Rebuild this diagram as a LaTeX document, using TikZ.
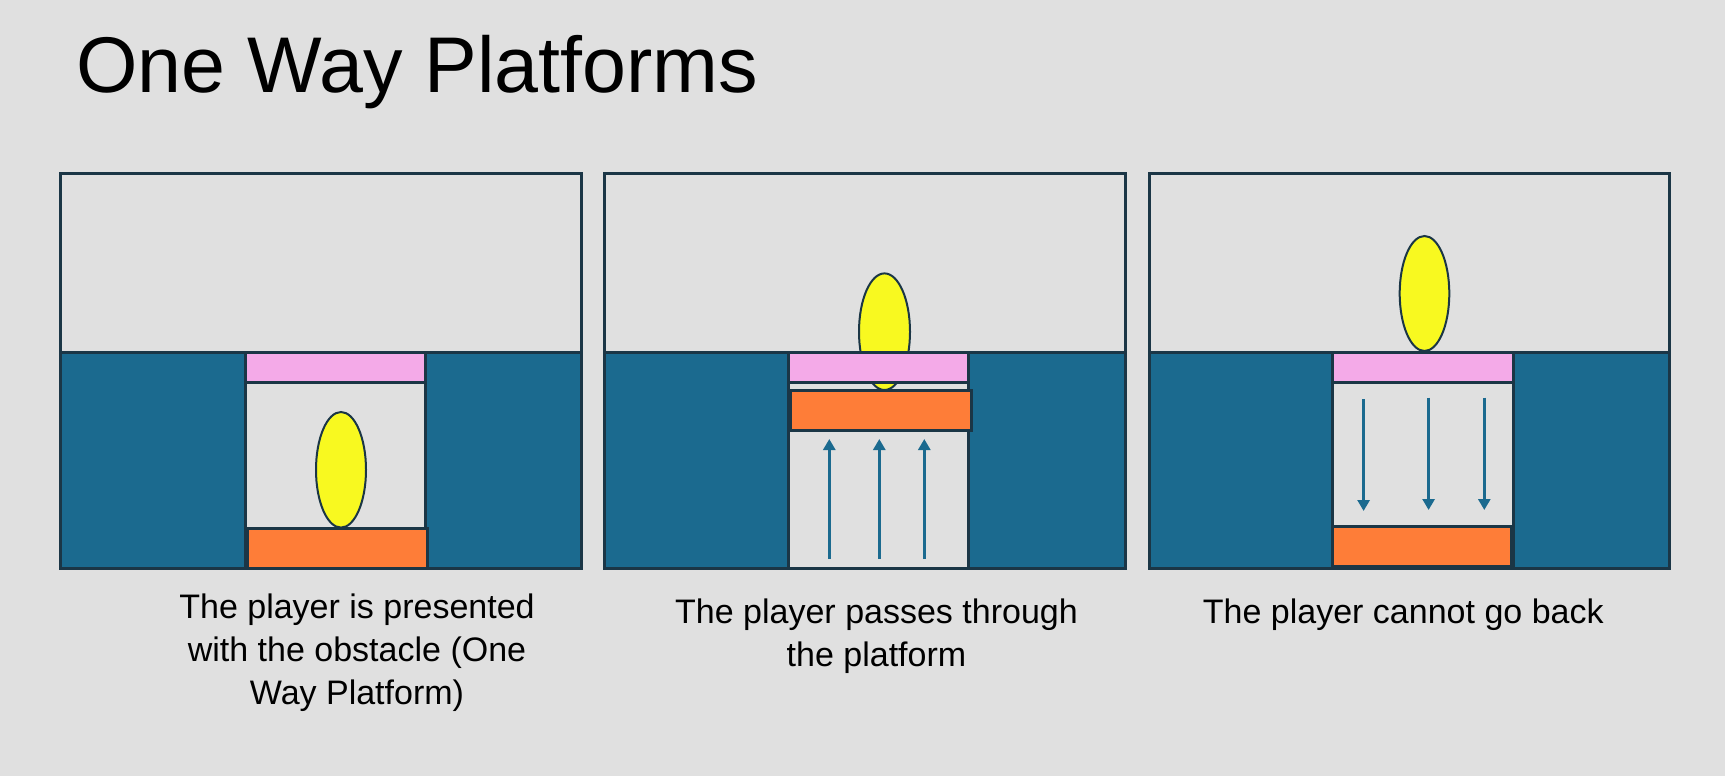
\documentclass[tikz,border=0pt]{standalone}
\usepackage{fontspec}
\setmainfont{Liberation Sans}
\usetikzlibrary{arrows.meta}
\definecolor{bg}{HTML}{E0E0E0}
\definecolor{dk}{HTML}{1B3646}
\definecolor{wallblue}{HTML}{1B6A8F}
\definecolor{platpink}{HTML}{F4AAE8}
\definecolor{platorange}{HTML}{FE7D38}
\definecolor{playeryellow}{HTML}{F8F920}
\begin{document}
\begin{tikzpicture}[x=1pt,y=-1pt,line join=miter]
\tikzset{
  edgeline/.style={draw=dk,line width=3pt},
  framebox/.style={fill=bg,draw=dk,line width=3pt},
  wallbox/.style={fill=wallblue,draw=dk,line width=3pt},
  pinkbox/.style={fill=platpink,draw=dk,line width=3pt},
  orangebox/.style={fill=platorange,draw=dk,line width=3pt},
  playerbox/.style={fill=playeryellow,draw=dk,line width=2pt},
  moveline/.style={draw=wallblue,line width=2.7pt,-{Triangle[width=12pt,length=11pt]}},
  caption/.style={font=\fontsize{34}{43.3}\selectfont,align=center,inner sep=0pt,anchor=base,text=black},
  titletext/.style={font=\fontsize{79}{96}\selectfont,inner sep=0pt,anchor=base west,text=black}
}
\fill[bg] (0,0) rectangle (1725,776);
\useasboundingbox (0,0) rectangle (1725,776);

\node[titletext] (title) at (76,92.7) {One Way Platforms};

% ---------- Panel 1 ----------
\draw[framebox] (60.7,173.3) rectangle (581.8,568.3);
\draw[wallbox] (60.7,352.3) rectangle (245.4,568.3);
\draw[wallbox] (425,352.3) rectangle (581.8,568.3);
\draw[pinkbox] (245.4,352.3) rectangle (425,382.3);
\draw[orangebox] (247,528.3) rectangle (427.5,568.3);
\draw[playerbox] (341,469.8) ellipse [x radius=25, y radius=57.8];
\draw[edgeline] (60.7,352.3) -- (581.8,352.3);
% base anchor of a multi-line node = baseline of its last line
\node[caption] (cap1) at (357,704.9) {The player is presented\\with the obstacle (One\\Way Platform)};

% ---------- Panel 2 ----------
\draw[framebox] (604.3,173.3) rectangle (1125.7,568.3);
\draw[wallbox] (604.3,352.3) rectangle (788.2,568.3);
\draw[wallbox] (968.6,352.3) rectangle (1125.7,568.3);
\draw[playerbox] (884.5,331.7) ellipse [x radius=25.5, y radius=58.3];
\draw[pinkbox] (788.2,352.3) rectangle (968.6,382.3);
\draw[orangebox] (790,390) rectangle (971,430.7);
\draw[edgeline] (604.3,352.3) -- (1125.7,352.3);
\coordinate (u1s) at (829.3,559); \coordinate (u1e) at (829.3,439);
\coordinate (u2s) at (879.3,559); \coordinate (u2e) at (879.3,439);
\coordinate (u3s) at (924.3,559); \coordinate (u3e) at (924.3,439);
\draw[moveline] (u1s) -- (u1e);
\draw[moveline] (u2s) -- (u2e);
\draw[moveline] (u3s) -- (u3e);
\node[caption] (cap2) at (876.5,666.6) {The player passes through\\the platform};

% ---------- Panel 3 ----------
\draw[framebox] (1149,173.3) rectangle (1669.6,568.3);
\draw[wallbox] (1149,352.3) rectangle (1332.9,568.3);
\draw[wallbox] (1513.2,352.3) rectangle (1669.6,568.3);
\draw[pinkbox] (1332.9,352.3) rectangle (1513.2,382.3);
\draw[orangebox] (1332,526) rectangle (1511.4,566);
\draw[playerbox] (1424.5,293.5) ellipse [x radius=24.8, y radius=57.5];
\draw[edgeline] (1149,352.3) -- (1669.6,352.3);
\coordinate (d1s) at (1363.6,399); \coordinate (d1e) at (1363.6,511);
\coordinate (d2s) at (1428.6,397.5); \coordinate (d2e) at (1428.6,510);
\coordinate (d3s) at (1484.3,397.5); \coordinate (d3e) at (1484.3,510);
\draw[moveline] (d1s) -- (d1e);
\draw[moveline] (d2s) -- (d2e);
\draw[moveline] (d3s) -- (d3e);
\node[caption] (cap3) at (1403.3,623.3) {The player cannot go back};
\end{tikzpicture}
\end{document}
